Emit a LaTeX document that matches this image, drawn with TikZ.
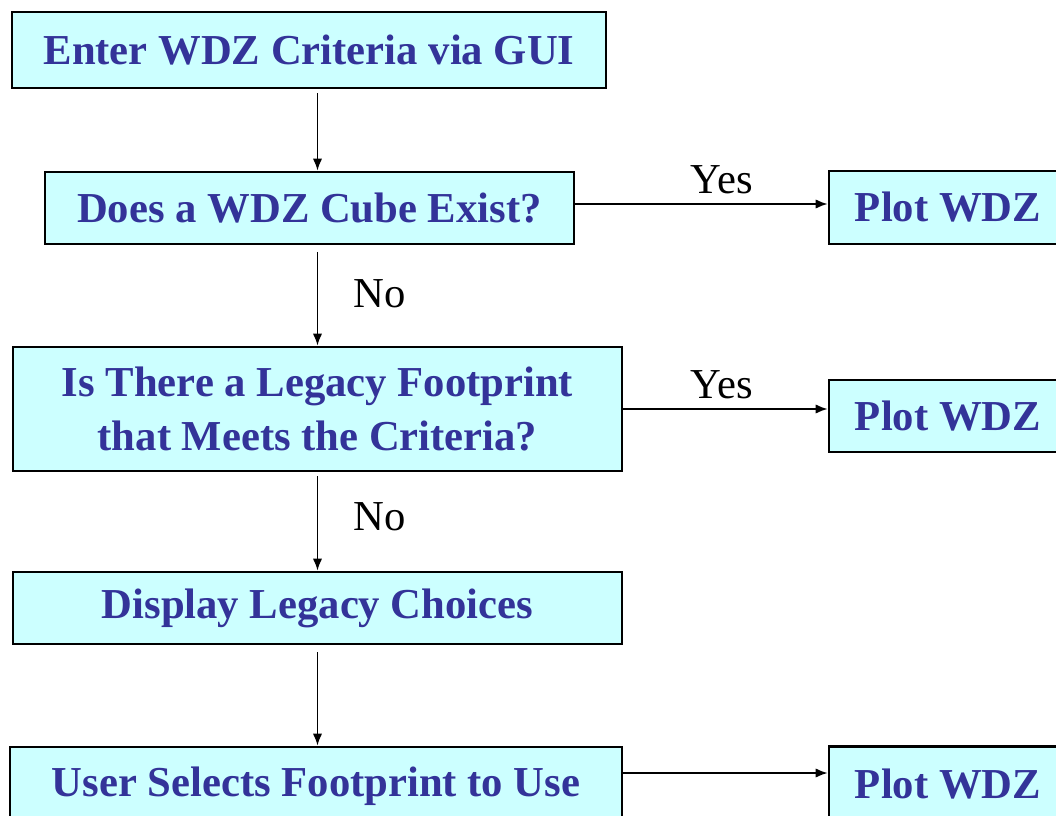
\documentclass[tikz,border=0pt]{standalone}
\usepackage{fontspec}
\setmainfont{Liberation Serif}
\usetikzlibrary{arrows.meta}
\definecolor{boxfill}{HTML}{CCFFFF}
\definecolor{boxtext}{HTML}{333399}
\begin{document}
\begin{tikzpicture}[x=0.75pt,y=-0.75pt]
\tikzset{box style/.style = {draw, line width=2pt, fill=boxfill, text=boxtext, font=\fontsize{32}{40.5}\selectfont\bfseries, align=center, inner sep=0pt},
  link style/.style = {line width=1.3pt, -{Latex[length=9pt,width=7pt]}},
  label style/.style = {font=\fontsize{32}{38}\selectfont, inner sep=0pt}}
\useasboundingbox (0,0) rectangle (1056,816);
   \node[box style, minimum width=445.5pt, minimum height=57pt] (enter) at (309,50) {Enter WDZ Criteria via GUI};
   \node[box style, minimum width=396.75pt, minimum height=54pt] (cube) at (309.5,208) {Does a WDZ Cube Exist?};
   \node[box style, minimum width=456.75pt, minimum height=93pt] (legacy) at (317.5,409) {Is There a Legacy Footprint\\that Meets the Criteria?};
   \node[box style, minimum width=456.75pt, minimum height=54pt] (choices) at (317.5,608) {Display Legacy Choices};
   \node[box style, minimum width=459pt, minimum height=58.5pt] (select) at (316,786) {User Selects Footprint to Use};
   \node[box style, minimum width=178.5pt, minimum height=54.75pt] (plotA) at (948,207.5) {Plot WDZ};
   \node[box style, minimum width=178.5pt, minimum height=54pt] (plotB) at (948,416) {Plot WDZ};
   \node[box style, minimum width=178.5pt, minimum height=56pt] (plotC) at (948,784) {Plot WDZ};
   % vertical links
   \draw[link style, shorten <=3pt] (enter.south -| legacy) -- (cube.north -| legacy);
   \draw[link style, shorten <=5pt] (cube.south -| legacy) -- (legacy.north);
   \draw[link style, shorten <=3pt] (legacy.south) -- (choices.north);
   \draw[link style, shorten <=5pt] (choices.south) -- (select.north -| choices);
   % horizontal links
   \draw[link style] ([yshift=3pt]cube.east) -- ([yshift=3pt]cube.east -| plotA.west);
   \draw[link style] (legacy.east) -- (legacy.east -| plotB.west);
   \draw[link style] ([yshift=9.75pt]select.east) -- ([yshift=9.75pt]select.east -| plotC.west);
   % labels
   \node[label style] (yesA) at (722,180) {Yes};
   \node[label style] (yesB) at (722,385) {Yes};
   \node[label style] (noA) at (380,294) {No};
   \node[label style] (noB) at (380,517) {No};
\end{tikzpicture}
\end{document}
